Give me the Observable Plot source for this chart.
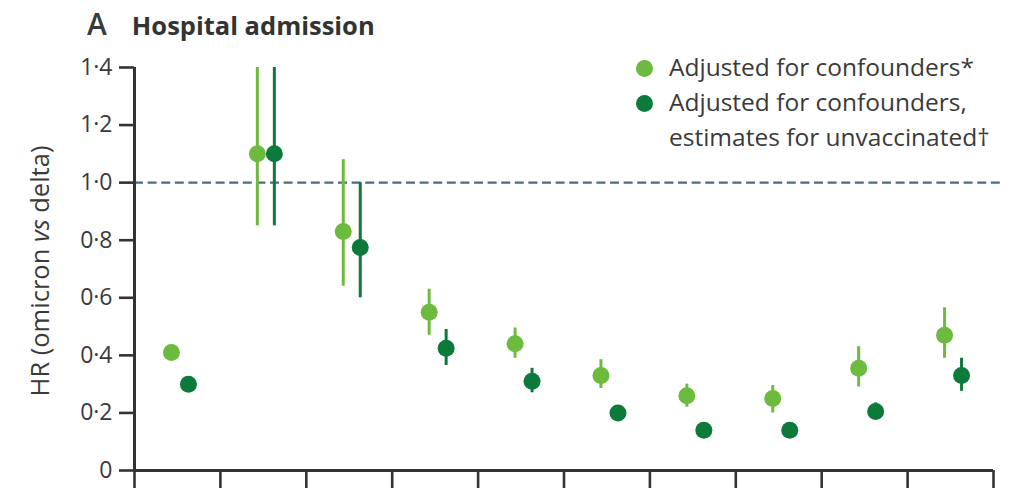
<!DOCTYPE html>
<html>
<head>
<meta charset="utf-8">
<script src="https://cdn.jsdelivr.net/npm/d3@7"></script>
<script src="https://cdn.jsdelivr.net/npm/@observablehq/plot@0.6"></script>
<style>
  body { margin: 0; background: #fff; }
  #chart { position: relative; width: 1030px; height: 488px; overflow: hidden;
           font-family: "Open Sans", Lato, sans-serif; color: #3a3a3a; }
  #chart svg { position: absolute; left: 0; top: 0; }
  .title { position: absolute; left: 87px; top: 3px; white-space: nowrap; color: #333; }
  .title .panel { font-size: 30px; font-weight: 600; margin-right: 25px; color: #3a3a3a; }
  .title .name { font-size: 25.5px; font-weight: 700; }
  .legend { position: absolute; left: 636px; top: 49px; font-size: 24.5px; line-height: 35px; }
  .legend .row { position: relative; padding-left: 33px; }
  .legend .sw { position: absolute; left: 0; top: 11px; width: 17px; height: 17px; border-radius: 50%; }
</style>
</head>
<body>
<div id="chart">
  <div class="title"><span class="panel">A</span><span class="name">Hospital admission</span></div>
</div>
<script>
// Age groups (x categories); tick labels are not printed on this panel
const ageGroups = ["All ages", "0–9", "10–19", "20–29", "30–39", "40–49", "50–59", "60–69", "70–79", "≥80"];

// Hazard ratios (omicron vs delta) adjusted for confounders, with 95% CI
const adjustedHR   = [0.41, 1.10, 0.83, 0.55, 0.44, 0.33, 0.26, 0.25, 0.355, 0.47];
const adjustedLow  = [0.39, 0.85, 0.64, 0.47, 0.39, 0.285, 0.22, 0.20, 0.29, 0.39];
const adjustedHigh = [0.43, 1.40, 1.08, 0.63, 0.495, 0.385, 0.30, 0.295, 0.43, 0.565];

// Estimates for unvaccinated individuals, with 95% CI
const unvaccinatedHR   = [0.30, 1.10, 0.775, 0.425, 0.31, 0.20, 0.14, 0.14, 0.205, 0.33];
const unvaccinatedLow  = [0.28, 0.85, 0.60, 0.365, 0.27, 0.18, 0.12, 0.12, 0.18, 0.275];
const unvaccinatedHigh = [0.32, 1.40, 1.00, 0.49, 0.355, 0.22, 0.16, 0.16, 0.235, 0.39];

const seriesNames = ["Adjusted for confounders*", "Adjusted for confounders,\nestimates for unvaccinated†"];
const seriesColors = ["#6dbb3e", "#0b7a3b"];

const yTicks = [0, 0.2, 0.4, 0.6, 0.8, 1.0, 1.2, 1.4];
const xBoundaries = d3.range(0, ageGroups.length + 1);

const adjustedRows = ageGroups.map((g, i) => ({group: g, pos: i + 0.5, hr: adjustedHR[i], lo: adjustedLow[i], hi: adjustedHigh[i]}));
const unvaccinatedRows = ageGroups.map((g, i) => ({group: g, pos: i + 0.5, hr: unvaccinatedHR[i], lo: unvaccinatedLow[i], hi: unvaccinatedHigh[i]}));

const fmt = d => d === 0 ? "0" : d.toFixed(1).replace(".", "·");
const axisColor = "#333";
const font = "'Open Sans', Lato, sans-serif";

const plot = Plot.plot({
  width: 1030,
  height: 488,
  marginLeft: 134,
  marginRight: 37,
  marginTop: 67,
  marginBottom: 18,
  style: {fontFamily: font, color: "#3a3a3a", background: "transparent"},
  x: {domain: [0, ageGroups.length], axis: null},
  y: {domain: [0, 1.4], axis: null},
  marks: [
    // reference line at HR = 1
    Plot.ruleY([1], {stroke: "#4a6e7d", strokeWidth: 2.4, strokeDasharray: "9,4.6", insetRight: -10}),
    // confidence intervals
    Plot.ruleX(adjustedRows, {x: "pos", y1: "lo", y2: "hi", stroke: seriesColors[0], strokeWidth: 3, dx: -6}),
    Plot.ruleX(unvaccinatedRows, {x: "pos", y1: "lo", y2: "hi", stroke: seriesColors[1], strokeWidth: 3, dx: 11}),
    // point estimates
    Plot.dot(adjustedRows, {x: "pos", y: "hr", r: 8.5, fill: seriesColors[0], dx: -6}),
    Plot.dot(unvaccinatedRows, {x: "pos", y: "hr", r: 8.5, fill: seriesColors[1], dx: 11}),
    // axes
    Plot.axisY({ticks: yTicks, tickFormat: fmt, tickSize: 15, tickPadding: 7, fontSize: 23,
                strokeWidth: 2.6, stroke: axisColor, fill: "#3a3a3a", label: null}),
    Plot.axisX({ticks: xBoundaries, tickFormat: () => "", tickSize: 22, strokeWidth: 2.6,
                stroke: axisColor, label: null}),
    Plot.ruleX([0], {stroke: axisColor, strokeWidth: 3}),
    Plot.ruleY([0], {stroke: axisColor, strokeWidth: 3})
  ]
});

const chart = document.getElementById("chart");
chart.appendChild(plot);

// y-axis title with italic "vs"
const svg = d3.select(plot);
const ylab = svg.append("text")
  .attr("transform", "translate(49,271) rotate(-90)")
  .attr("text-anchor", "middle")
  .attr("font-size", 25.5)
  .attr("fill", "#3a3a3a")
  .attr("font-family", font);
ylab.append("tspan").text("HR (omicron ");
ylab.append("tspan").attr("font-style", "italic").text("vs");
ylab.append("tspan").text(" delta)");

// legend
const legend = d3.select(chart).append("div").attr("class", "legend");
seriesNames.forEach((name, i) => {
  const lines = name.split("\n");
  lines.forEach((line, j) => {
    const row = legend.append("div").attr("class", "row");
    if (j === 0) row.append("span").attr("class", "sw").style("background", seriesColors[i]);
    row.append("span").text(line);
  });
});
</script>
</body>
</html>
